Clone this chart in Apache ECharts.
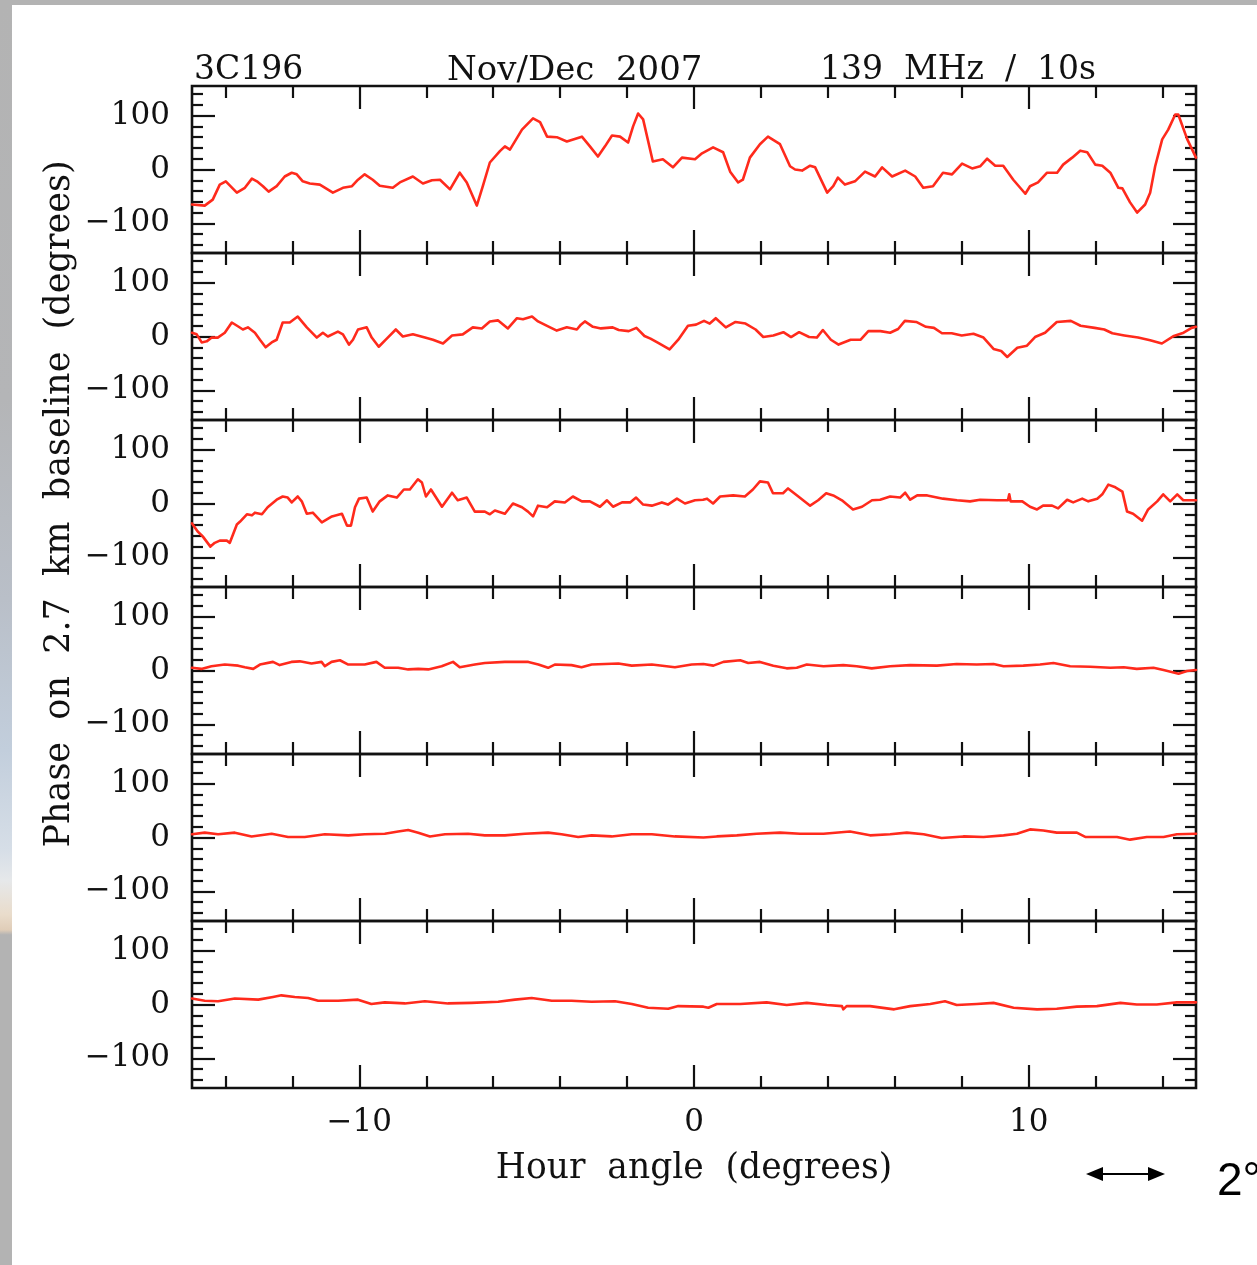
<!DOCTYPE html>
<html>
<head>
<meta charset="utf-8">
<title>3C196 phase on 2.7 km baseline</title>
<script src="https://cdn.jsdelivr.net/npm/echarts@6/dist/echarts.min.js"></script>
<style>
  html, body { margin: 0; padding: 0; background: #fff; }
  #chart { width: 1257px; height: 1265px; }
</style>
</head>
<body>
<div id="chart"></div>
<script>
// Axis ranges and tick positions
const hourAngleRange = [-15, 15];
const phaseRange = [-155, 155];
const xMajorTicks = [-10, 0, 10];
const xMinorTicks = [-14, -12, -8, -6, -4, -2, 2, 4, 6, 8, 12, 14];
const yMajorTicks = [-100, 0, 100];
const yMinorTicks = [-140, -120, -80, -60, -40, -20, 20, 40, 60, 80, 120, 140];

// Header texts
const headerLeft = '3C196';
const headerMid = 'Nov/Dec  2007';
const headerRight = '139  MHz  /  10s';
const xTitle = 'Hour  angle  (degrees)';
const yTitle = 'Phase  on  2.7  km  baseline  (degrees)';

// Phase (degrees) vs hour angle (degrees), one array per panel, top to bottom
const phase1 = [[-15.0,-65],[-14.62,-67],[-14.38,-56],[-14.17,-28],[-13.99,-22],[-13.66,-43],[-13.42,-34],[-13.21,-17],[-13.06,-22],[-12.88,-31],[-12.71,-41],[-12.47,-31],[-12.23,-13],[-12.02,-6],[-11.87,-9],[-11.69,-22],[-11.48,-26],[-11.18,-28],[-10.79,-43],[-10.49,-34],[-10.22,-31],[-10.04,-19],[-9.84,-9],[-9.60,-19],[-9.39,-30],[-9.00,-34],[-8.79,-24],[-8.40,-13],[-8.10,-26],[-7.83,-20],[-7.59,-19],[-7.29,-37],[-7.00,-6],[-6.79,-24],[-6.49,-67],[-6.31,-31],[-6.10,13],[-5.80,34],[-5.65,43],[-5.50,37],[-5.14,74],[-4.81,95],[-4.60,88],[-4.39,61],[-4.10,60],[-3.80,52],[-3.35,61],[-3.11,43],[-2.87,24],[-2.66,43],[-2.45,63],[-2.21,61],[-1.97,50],[-1.82,80],[-1.67,104],[-1.52,93],[-1.23,15],[-0.93,19],[-0.63,4],[-0.36,22],[0.03,19],[0.24,30],[0.57,41],[0.87,32],[1.08,-4],[1.32,-24],[1.46,-19],[1.67,22],[1.97,47],[2.21,61],[2.57,47],[2.87,6],[3.02,0],[3.23,-2],[3.47,7],[3.62,4],[3.98,-43],[4.16,-31],[4.30,-15],[4.51,-28],[4.81,-22],[5.11,-4],[5.41,-13],[5.62,4],[5.92,-13],[6.31,-2],[6.61,-13],[6.85,-34],[7.14,-31],[7.44,-6],[7.71,-9],[8.01,11],[8.31,2],[8.55,6],[8.76,20],[9.00,7],[9.24,7],[9.54,-19],[9.90,-45],[10.04,-31],[10.28,-24],[10.55,-6],[10.85,-6],[11.03,9],[11.30,22],[11.54,35],[11.75,32],[11.99,9],[12.20,7],[12.44,-6],[12.68,-34],[12.80,-35],[13.03,-61],[13.24,-80],[13.48,-65],[13.63,-43],[13.78,6],[13.99,56],[14.17,74],[14.38,102],[14.47,102],[14.74,56],[15.0,22]];

const phase2 = [[-15.0,7],[-14.86,4],[-14.71,-11],[-14.56,-9],[-14.41,-2],[-14.23,-2],[-14.02,7],[-13.81,26],[-13.63,19],[-13.48,13],[-13.33,17],[-13.12,7],[-12.97,-6],[-12.80,-20],[-12.62,-11],[-12.47,-6],[-12.29,26],[-12.08,26],[-11.84,37],[-11.57,17],[-11.27,-2],[-11.09,7],[-10.94,0],[-10.64,9],[-10.49,4],[-10.31,-15],[-10.19,-6],[-10.04,13],[-9.78,17],[-9.63,-2],[-9.42,-19],[-9.18,-4],[-8.91,13],[-8.70,0],[-8.40,4],[-8.04,-2],[-7.80,-6],[-7.50,-13],[-7.23,2],[-6.91,4],[-6.61,17],[-6.34,15],[-6.10,28],[-5.86,30],[-5.56,15],[-5.29,34],[-5.11,32],[-4.84,37],[-4.66,28],[-4.30,17],[-4.10,11],[-3.80,17],[-3.50,13],[-3.38,22],[-3.26,28],[-3.02,18],[-2.78,15],[-2.43,17],[-2.25,12],[-1.95,10],[-1.72,16],[-1.48,1],[-1.30,-4],[-1.07,-12],[-0.73,-24],[-0.47,-6],[-0.18,20],[0.06,22],[0.30,29],[0.47,24],[0.65,34],[0.95,17],[1.24,27],[1.54,24],[1.84,13],[2.07,-1],[2.37,2],[2.67,8],[2.90,-1],[3.14,8],[3.44,-1],[3.67,-2],[3.85,12],[4.09,-6],[4.32,-15],[4.68,-6],[4.98,-6],[5.21,10],[5.57,10],[5.86,7],[6.10,14],[6.30,29],[6.64,27],[6.93,18],[7.17,16],[7.41,6],[7.70,6],[8.00,2],[8.35,5],[8.65,-2],[8.95,-23],[9.18,-27],[9.36,-38],[9.66,-21],[9.95,-17],[10.19,-1],[10.49,7],[10.84,27],[11.26,29],[11.55,20],[11.97,16],[12.26,13],[12.50,6],[12.86,2],[13.27,-2],[13.63,-7],[13.98,-13],[14.34,1],[14.63,7],[14.87,16],[15.0,18]];

const phase3 = [[-15.0,-37],[-14.83,-52],[-14.68,-61],[-14.45,-80],[-14.32,-73],[-14.17,-69],[-13.96,-69],[-13.87,-73],[-13.66,-39],[-13.57,-34],[-13.36,-20],[-13.21,-22],[-13.12,-17],[-12.91,-20],[-12.74,-7],[-12.47,7],[-12.29,13],[-12.14,11],[-12.02,2],[-11.84,13],[-11.72,4],[-11.57,-19],[-11.39,-17],[-11.12,-35],[-10.82,-24],[-10.52,-19],[-10.37,-41],[-10.25,-41],[-10.13,-7],[-10.01,9],[-9.78,11],[-9.60,-15],[-9.39,4],[-9.15,15],[-8.88,11],[-8.67,26],[-8.49,26],[-8.25,45],[-8.13,39],[-8.01,13],[-7.86,26],[-7.53,-6],[-7.23,20],[-7.06,6],[-6.79,11],[-6.55,-15],[-6.25,-15],[-6.10,-20],[-5.95,-13],[-5.65,-19],[-5.41,0],[-5.14,-7],[-4.96,-15],[-4.81,-24],[-4.66,-4],[-4.39,-7],[-4.16,4],[-3.86,2],[-3.62,13],[-3.35,4],[-3.11,4],[-2.81,-6],[-2.60,6],[-2.42,-6],[-2.15,2],[-1.91,2],[-1.73,11],[-1.52,-2],[-1.26,-4],[-0.96,2],[-0.78,-2],[-0.51,9],[-0.27,0],[0.03,6],[0.27,7],[0.39,9],[0.57,0],[0.78,13],[1.17,15],[1.52,13],[1.76,26],[1.97,41],[2.21,39],[2.36,19],[2.66,19],[2.81,28],[3.08,15],[3.47,-4],[3.71,6],[3.95,19],[4.16,15],[4.42,6],[4.75,-11],[5.02,-6],[5.32,6],[5.56,7],[5.86,13],[6.16,11],[6.31,20],[6.46,7],[6.67,15],[6.97,15],[7.44,9],[7.86,6],[8.25,4],[8.55,7],[9.06,6],[9.38,6],[9.42,17],[9.46,4],[9.81,4],[10.04,-6],[10.25,-11],[10.43,-4],[10.70,-4],[10.88,-9],[11.15,7],[11.33,2],[11.60,9],[11.78,4],[12.05,9],[12.20,17],[12.38,35],[12.59,30],[12.80,22],[12.94,-15],[13.12,-19],[13.39,-32],[13.57,-11],[13.84,4],[14.02,17],[14.23,4],[14.44,17],[14.62,6],[15.0,6]];

const phase4 = [[-15.0,5],[-14.72,3],[-14.42,8],[-14.02,11],[-13.62,9],[-13.42,6],[-13.17,3],[-12.97,11],[-12.58,16],[-12.38,10],[-12.03,16],[-11.78,17],[-11.43,13],[-11.13,16],[-11.03,8],[-10.83,16],[-10.58,19],[-10.33,11],[-9.84,11],[-9.49,16],[-9.24,5],[-8.84,5],[-8.54,2],[-8.24,3],[-7.94,2],[-7.54,8],[-7.20,16],[-7.00,6],[-6.55,11],[-6.25,14],[-5.65,16],[-4.95,16],[-4.65,11],[-4.36,5],[-4.16,11],[-3.66,10],[-3.36,6],[-3.06,11],[-2.26,13],[-1.86,9],[-1.26,11],[-0.57,6],[-0.07,11],[0.28,12],[0.58,9],[0.88,16],[1.38,19],[1.62,14],[1.97,16],[2.37,9],[2.77,4],[3.07,5],[3.37,11],[3.87,8],[4.46,10],[4.86,8],[5.31,4],[5.86,8],[6.46,10],[7.26,9],[7.85,12],[8.45,11],[8.95,12],[9.25,8],[9.84,9],[10.34,11],[10.74,14],[11.24,8],[11.84,7],[12.44,5],[12.84,6],[13.23,3],[13.73,5],[14.03,1],[14.48,-6],[14.73,-1],[15.0,1]];

const phase5 = [[-15.0,6],[-14.62,9],[-14.22,6],[-13.72,9],[-13.22,2],[-12.62,7],[-12.13,1],[-11.63,1],[-11.03,6],[-10.33,4],[-9.84,6],[-9.24,7],[-8.84,11],[-8.54,14],[-8.24,9],[-7.89,2],[-7.44,6],[-6.75,7],[-6.25,4],[-5.65,4],[-5.05,7],[-4.36,9],[-3.96,6],[-3.46,1],[-3.06,4],[-2.46,2],[-1.86,6],[-1.26,6],[-0.57,2],[0.28,0],[0.68,2],[1.28,4],[1.87,7],[2.57,9],[3.17,7],[3.87,7],[4.66,11],[5.26,4],[5.86,6],[6.36,9],[6.86,6],[7.40,-1],[8.05,2],[8.65,1],[9.25,4],[9.65,7],[10.04,15],[10.44,13],[10.84,9],[11.44,9],[11.69,1],[12.14,1],[12.64,1],[13.03,-4],[13.53,1],[14.03,1],[14.43,6],[15.0,7]];

const phase6 = [[-15.0,11],[-14.62,7],[-14.22,6],[-13.72,11],[-13.02,9],[-12.58,14],[-12.33,17],[-11.93,14],[-11.53,12],[-11.23,7],[-10.63,7],[-10.04,9],[-9.64,1],[-9.24,4],[-8.64,2],[-8.04,6],[-7.35,2],[-6.65,3],[-5.85,5],[-5.35,9],[-4.85,12],[-4.25,7],[-3.66,7],[-3.06,5],[-2.36,6],[-1.86,1],[-1.37,-6],[-0.77,-8],[-0.47,-3],[0.28,-4],[0.43,-6],[0.68,1],[1.38,1],[2.17,4],[2.77,-1],[3.37,3],[3.97,-1],[4.42,-3],[4.46,-9],[4.56,-3],[5.26,-3],[5.98,-9],[6.46,-3],[7.06,1],[7.50,6],[7.85,-1],[8.45,1],[8.95,3],[9.55,-6],[10.25,-9],[10.84,-8],[11.44,-4],[12.04,-3],[12.74,3],[13.23,0],[13.83,0],[14.43,4],[15.0,4]];

const panels = [phase1, phase2, phase3, phase4, phase5, phase6];

// Layout
const plotLeft = 192, plotWidth = 1004, plotTop = 86, panelHeight = 167;
const ink = '#111';
const traceColor = '#ff2a1c';
const serif = '"DejaVu Serif", "Liberation Serif", serif';

const minus = v => (v < 0 ? '\u2212' + Math.abs(v) : String(v));

const grids = [], xAxes = [], yAxes = [], series = [];

const tick = (len, values) => ({
  show: true, inside: true, length: len, customValues: values,
  lineStyle: { color: ink, width: 2.2 }
});

panels.forEach((data, i) => {
  const last = i === panels.length - 1;
  grids.push({
    left: plotLeft, width: plotWidth,
    top: plotTop + i * panelHeight, height: panelHeight,
    show: true, borderColor: ink, borderWidth: 2.6, backgroundColor: 'transparent'
  });

  const xBase = {
    type: 'value', gridIndex: i, min: hourAngleRange[0], max: hourAngleRange[1],
    axisLine: { show: false, onZero: false }, splitLine: { show: false },
    axisLabel: { show: false }
  };

  // bottom, major ticks (labels and title on the lowest panel)
  xAxes.push(Object.assign({}, xBase, {
    position: 'bottom',
    axisTick: tick(23, xMajorTicks),
    axisLabel: {
      show: last, customValues: xMajorTicks, formatter: minus, margin: 19,
      color: ink, fontSize: 31, fontFamily: serif
    },
    name: last ? xTitle : '', nameLocation: 'middle', nameGap: 64,
    nameTextStyle: { color: ink, fontSize: 34.5, fontFamily: serif }
  }));
  xAxes.push(Object.assign({}, xBase, { position: 'bottom', axisTick: tick(12, xMinorTicks) }));
  xAxes.push(Object.assign({}, xBase, { position: 'top', axisTick: tick(23, xMajorTicks) }));
  xAxes.push(Object.assign({}, xBase, { position: 'top', axisTick: tick(12, xMinorTicks) }));

  const yBase = {
    type: 'value', gridIndex: i, min: phaseRange[0], max: phaseRange[1],
    axisLine: { show: false, onZero: false }, splitLine: { show: false },
    axisLabel: { show: false }
  };
  yAxes.push(Object.assign({}, yBase, {
    position: 'left',
    axisTick: tick(23, yMajorTicks),
    axisLabel: {
      show: true, customValues: yMajorTicks, formatter: minus, margin: 22,
      color: ink, fontSize: 31, fontFamily: serif
    }
  }));
  yAxes.push(Object.assign({}, yBase, { position: 'left', axisTick: tick(11, yMinorTicks) }));
  yAxes.push(Object.assign({}, yBase, { position: 'right', axisTick: tick(23, yMajorTicks) }));
  yAxes.push(Object.assign({}, yBase, { position: 'right', axisTick: tick(11, yMinorTicks) }));

  series.push({
    type: 'line', xAxisIndex: i * 4, yAxisIndex: i * 4, data: data,
    showSymbol: false, symbol: 'none', clip: true, animation: false,
    lineStyle: { color: traceColor, width: 2.6, join: 'round', cap: 'round' }
  });
});

const chart = echarts.init(document.getElementById('chart'), null, { renderer: 'canvas' });

const headerStyle = { color: ink, fontSize: 33, fontWeight: 'normal', fontFamily: serif };

chart.setOption({
  backgroundColor: '#ffffff',
  animation: false,
  title: [
    { text: headerLeft, left: 189, top: 49, textStyle: headerStyle },
    { text: headerMid, left: 442, top: 49, textStyle: Object.assign({}, headerStyle, { fontSize: 34 }) },
    { text: headerRight, left: 815, top: 49, textStyle: headerStyle }
  ],
  grid: grids,
  xAxis: xAxes,
  yAxis: yAxes,
  series: series,
  graphic: [
    // slide frame strips
    { type: 'rect', silent: true, shape: { x: 0, y: 0, width: 1257, height: 5 }, style: { fill: '#b3b3b3' } },
    {
      type: 'rect', silent: true, shape: { x: 0, y: 0, width: 12, height: 1265 },
      style: {
        fill: new echarts.graphic.LinearGradient(0, 0, 0, 1, [
          { offset: 0, color: '#b3b3b3' },
          { offset: 0.316, color: '#b4b5b7' },
          { offset: 0.474, color: '#b9bfc8' },
          { offset: 0.593, color: '#c2cedc' },
          { offset: 0.672, color: '#d6dee7' },
          { offset: 0.696, color: '#e6e8ea' },
          { offset: 0.723, color: '#e9dccb' },
          { offset: 0.735, color: '#e0cdb8' },
          { offset: 0.739, color: '#b3b3b3' },
          { offset: 1, color: '#b3b3b3' }
        ])
      }
    },
    // vertical axis title
    {
      type: 'text', silent: true, x: 60, y: 504, rotation: Math.PI / 2,
      style: { text: yTitle, fill: ink, font: '35px ' + serif, align: 'center', verticalAlign: 'middle' }
    },
    // 2 degree scale bar
    { type: 'line', silent: true, shape: { x1: 1098, y1: 1174, x2: 1154, y2: 1174 }, style: { stroke: '#000', lineWidth: 2 } },
    { type: 'polygon', silent: true, shape: { points: [[1086, 1174], [1103, 1167], [1103, 1181]] }, style: { fill: '#000' } },
    { type: 'polygon', silent: true, shape: { points: [[1165, 1174], [1148, 1167], [1148, 1181]] }, style: { fill: '#000' } },
    {
      type: 'text', silent: true, x: 1217, y: 1182,
      style: { text: '2\u00b0', fill: '#000', font: '46px "Liberation Sans", Arial, sans-serif', align: 'left', verticalAlign: 'middle' }
    }
  ]
});
</script>
</body>
</html>
